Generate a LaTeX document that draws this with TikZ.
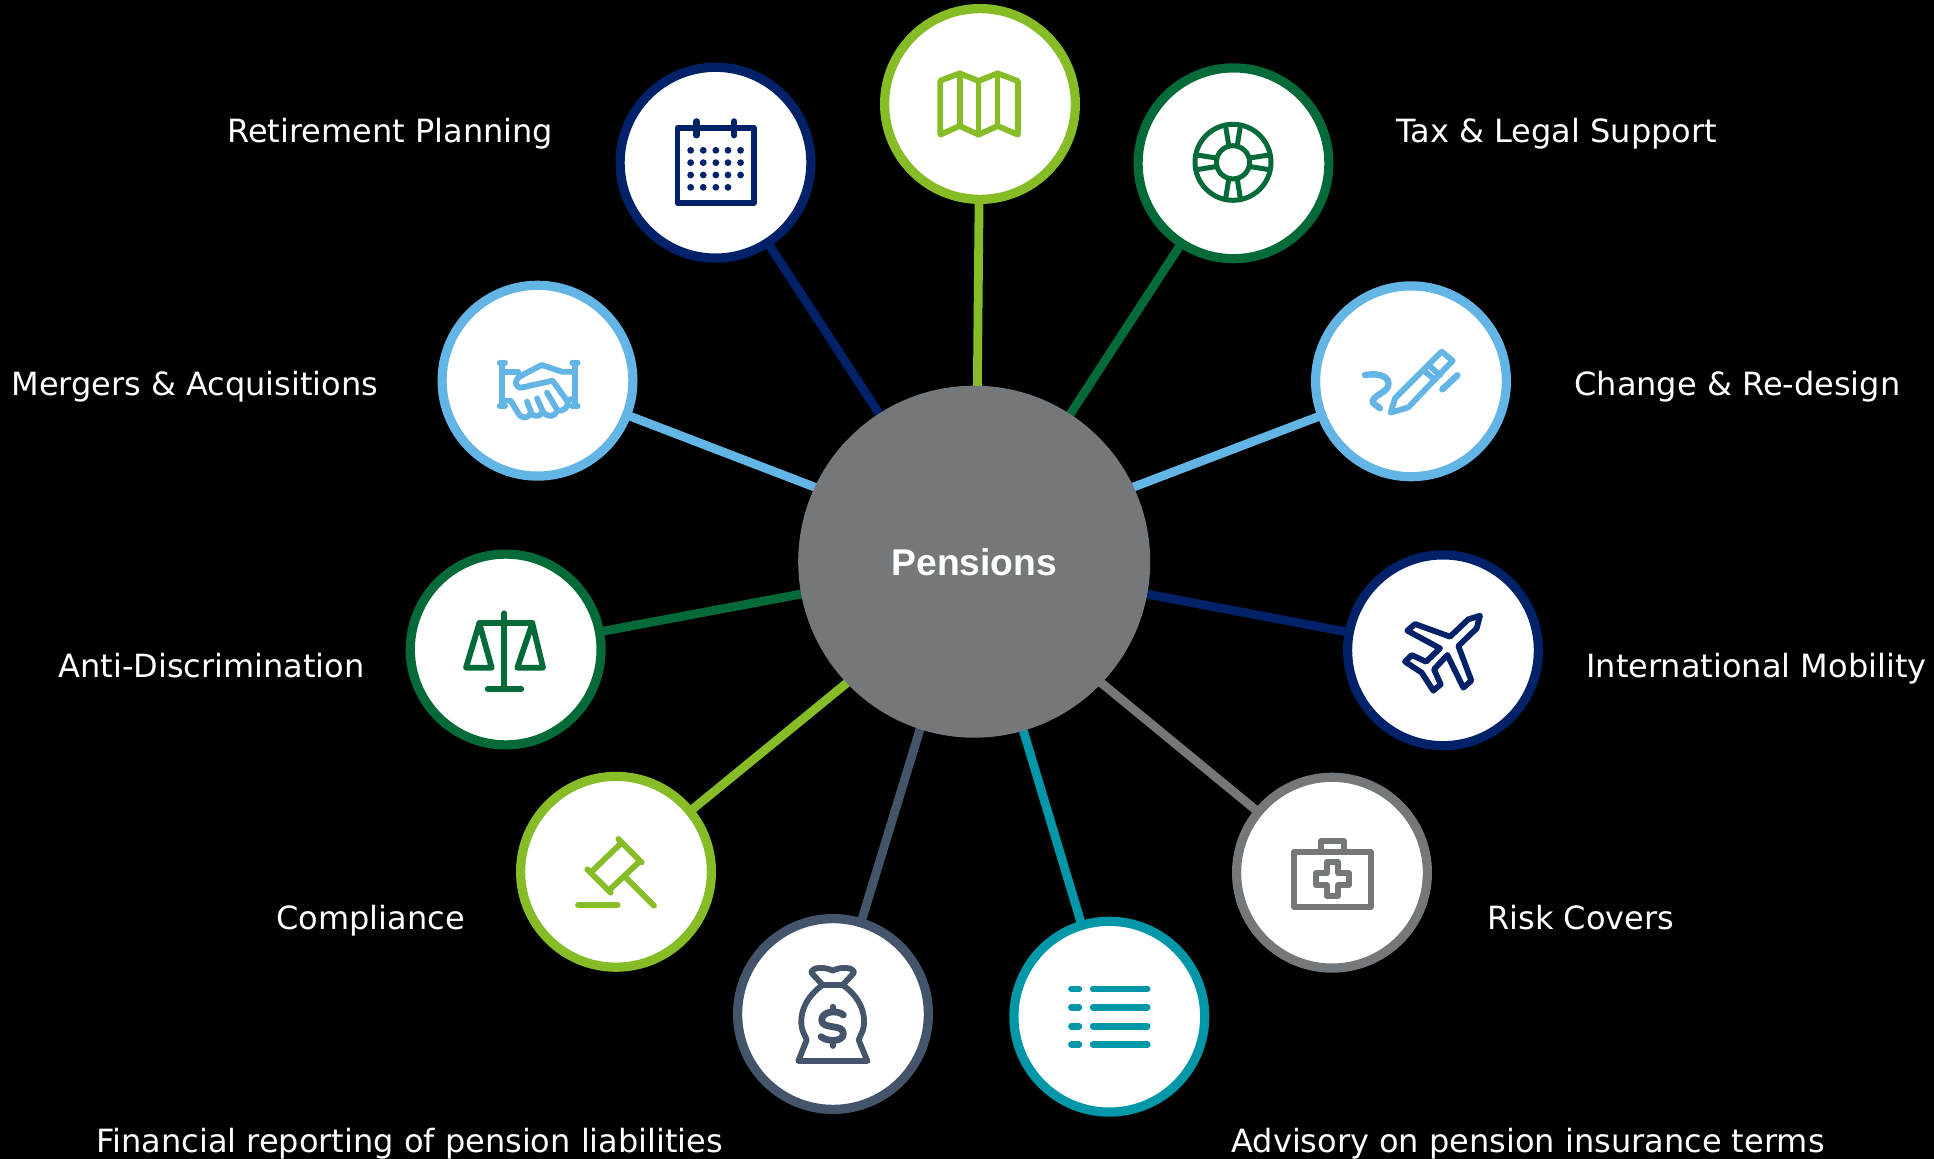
\documentclass[tikz,border=0pt]{standalone}
\usepackage{fontspec}
\setmainfont{DejaVu Sans}
\newfontfamily\hubfont{Liberation Sans}
\definecolor{cnavy}{HTML}{012169}
\definecolor{clime}{HTML}{86BC25}
\definecolor{cgreen}{HTML}{046A38}
\definecolor{csky}{HTML}{62B5E5}
\definecolor{cgrey}{HTML}{75787B}
\definecolor{cslate}{HTML}{44546A}
\definecolor{cteal}{HTML}{0097A9}
\tikzset{
  hubnode/.style={circle,fill=cgrey,minimum size=352*0.5pt,inner sep=0pt,outer sep=0pt,text=white,font=\hubfont\bfseries\fontsize{18.6}{22}\selectfont},
  ringnode/.style={circle,draw=#1,fill=white,line width=4.6pt,minimum size=190.8*0.5pt,inner sep=0pt,outer sep=0pt},
  spoke/.style={line width=4.4pt,draw=#1,line cap=round},
  lbl/.style={anchor=base west,inner sep=0pt,text=white,font=\fontsize{16}{19}\selectfont},
  icon/.style={line width=2.9pt,draw=#1,line cap=round,line join=round},
  zoomA/.style={shift={#1},x=0.16667pt,y=-0.16667pt},
  zoomB/.style={shift={#1},x=0.24237pt,y=-0.16667pt}
}
\begin{document}
\begin{tikzpicture}[x=0.5pt,y=-0.5pt]
\fill[black] (0,0) rectangle (1934,1159);
\useasboundingbox (0,0) rectangle (1934,1159);
% circle centres
\coordinate (chub) at (974.2,561.7);
\coordinate (ccal) at (715.5,162.7);
\coordinate (cmap) at (980,104);
\coordinate (cwheel) at (1233.5,163.3);
\coordinate (chand) at (537.5,380.7);
\coordinate (cpen) at (1411,381.3);
\coordinate (cscale) at (505.7,649.5);
\coordinate (cplane) at (1443,650.3);
\coordinate (cgavel) at (616,871.8);
\coordinate (ccase) at (1332,872.7);
\coordinate (cbag) at (833,1014);
\coordinate (clist) at (1109.3,1016.7);
% where each spoke meets the hub
\coordinate (hcal) at (880,415);
\coordinate (hmap) at (977.3,392);
\coordinate (hwheel) at (1069,416);
\coordinate (hhand) at (817,488);
\coordinate (hpen) at (1131,488);
\coordinate (hscale) at (804,593.5);
\coordinate (hplane) at (1144,593.5);
\coordinate (hgavel) at (848,682);
\coordinate (hcase) at (1099,681);
\coordinate (hbag) at (920.7,727);
\coordinate (hlist) at (1022.5,728);
\draw[spoke=cnavy] (hcal) -- (ccal);
\draw[spoke=clime] (hmap) -- (cmap);
\draw[spoke=cgreen] (hwheel) -- (cwheel);
\draw[spoke=csky] (hhand) -- (chand);
\draw[spoke=csky] (hpen) -- (cpen);
\draw[spoke=cgreen] (hscale) -- (cscale);
\draw[spoke=cnavy] (hplane) -- (cplane);
\draw[spoke=clime] (hgavel) -- (cgavel);
\draw[spoke=cgrey] (hcase) -- (ccase);
\draw[spoke=cslate] (hbag) -- (cbag);
\draw[spoke=cteal] (hlist) -- (clist);
\node[hubnode,text depth=0pt] (hub) at (chub) {\raisebox{-0.5pt}{Pensions}};
\node[ringnode=cnavy] (ncal) at (ccal) {};
\node[ringnode=clime] (nmap) at (cmap) {};
\node[ringnode=cgreen] (nwheel) at (cwheel) {};
\node[ringnode=csky] (nhand) at (chand) {};
\node[ringnode=csky] (npen) at (cpen) {};
\node[ringnode=cgreen] (nscale) at (cscale) {};
\node[ringnode=cnavy] (nplane) at (cplane) {};
\node[ringnode=clime] (ngavel) at (cgavel) {};
\node[ringnode=cgrey] (ncase) at (ccase) {};
\node[ringnode=cslate] (nbag) at (cbag) {};
\node[ringnode=cteal] (nlist) at (clist) {};
% labels
\node[lbl] (l1) at (227,143) {Retirement Planning};
\node[lbl] (l2) at (1396,143) {Tax \& Legal Support};
\node[lbl] (l3) at (11,396) {Mergers \& Acquisitions};
\node[lbl] (l4) at (1574,396) {Change \& Re-design};
\node[lbl] (l5) at (58,678) {Anti-Discrimination};
\node[lbl] (l6) at (1586,678) {International Mobility};
\node[lbl] (l7) at (276,929) {Compliance};
\node[lbl] (l8) at (1487,929) {Risk Covers};
\node[lbl] (l9) at (96,1152) {Financial reporting of pension liabilities};
\node[lbl] (l10) at (1231,1152) {Advisory on pension insurance terms};
% calendar
\begin{scope}[zoomB={(600,0)}]
\draw[icon=cnavy] (160,383) rectangle (317,609);
\draw[icon=cnavy,line width=3.1pt] (199,364) -- (199,406) (277,364) -- (277,406);
\foreach \y/\xs in {451/{187,213,239,264,290},488/{187,213,239,264,290},525/{187,213,239,264,290},562/{187,213,239,264}}
  \foreach \x in \xs \fill[cnavy] (\x,\y) circle (1.7pt);
% map
\draw[icon=clime] (702,242) -- (742,220) -- (781,243) -- (820,220) -- (862,243) -- (862,404) -- (820,378) -- (781,404) -- (742,378) -- (702,404) -- cycle;
\draw[icon=clime] (742,220) -- (742,378) (781,243) -- (781,404) (820,220) -- (820,378);
\end{scope}
% life ring
\begin{scope}[shift={(1233,162.3)}]
\draw[icon=cgreen,line width=2.5pt] (0,0) circle (19pt) (0,0) circle (8.3pt);
\foreach \a in {0,90,180,270}
  \draw[icon=cgreen,line width=2.5pt,rotate=\a] (-4.2,-16.5) -- (-7.5,-37) (4.2,-16.5) -- (7.5,-37);
\end{scope}
% handshake
\begin{scope}[zoomA={(400,270)}]
\draw[icon=csky] (306,278) -- (306,408) (299,278) -- (315,278) (299,408) -- (315,408);
\draw[icon=csky] (524,278) -- (524,408) (517,278) -- (533,278) (517,408) -- (533,408);
\draw[icon=csky] (306,305) -- (355,305);
\draw[icon=csky] (524,305) -- (485,305) -- (425,285) -- (362,318) .. controls (340,330) and (345,358) .. (368,352) -- (458,332) -- (503,395);
\draw[icon=csky] (306,392) -- (332,392) -- (355,430) .. controls (365,448) and (385,445) .. (392,430) .. controls (405,442) and (422,440) .. (428,425) .. controls (445,445) and (465,440) .. (472,422) .. controls (490,425) and (508,410) .. (503,395) -- (510,388) -- (524,388);
\draw[icon=csky] (381,395) -- (394,428) (411,385) -- (428,423) (441,368) -- (472,420);
% scale
\draw[icon=cgreen] (313,1030) -- (313,1255) (263,1257) -- (364,1257) (238,1060) -- (397,1060);
\draw[icon=cgreen] (238,1060) -- (198,1193) -- (275,1193) -- cycle (397,1060) -- (352,1193) -- (429,1193) -- cycle;
\end{scope}
% pen and plane
\begin{scope}[zoomA={(1300,270)}]
\draw[icon=csky] (272,428) -- (285,385) -- (425,245) -- (458,272) -- (325,412) -- cycle;
\draw[icon=csky] (370,300) -- (405,330) (385,285) -- (420,316);
\draw[icon=csky,line width=3.2pt] (427,358) -- (472,316);
\draw[icon=csky,line width=3.2pt] (195,315) .. controls (240,308) and (272,320) .. (264,350) .. controls (255,370) and (215,378) .. (218,398) -- (240,415);
\draw[icon=cnavy] (540,1037) -- (505,1048) -- (450,1100) -- (345,1062) -- (322,1082) -- (420,1135) -- (378,1175) -- (335,1155) -- (315,1175) -- (365,1208) -- (400,1262) -- (422,1243) -- (402,1198) -- (442,1155) -- (490,1253) -- (514,1232) -- (475,1128) -- (530,1075) -- cycle;
\end{scope}
% gavel and money bag
\begin{scope}[zoomA={(510,770)}]
\draw[icon=clime] (325,207) -- (395,277) (232,298) -- (302,368) (335,218) -- (245,305) (385,278) -- (298,360) (345,320) -- (432,407);
\draw[icon=clime,line width=3.2pt] (205,405) -- (322,405);
\draw[icon=cslate] (938,645) .. controls (895,675) and (868,720) .. (875,770) .. controls (877,785) and (885,795) .. (890,810) -- (865,873) -- (1072,873) -- (1046,810) .. controls (1051,795) and (1059,785) .. (1061,770) .. controls (1068,720) and (1041,675) .. (998,645);
\draw[icon=cslate] (938,645) -- (998,645) -- (1032,608) .. controls (1030,590) and (990,590) .. (968,602) .. controls (946,590) and (906,590) .. (904,608) -- cycle;
\draw[icon=cslate,line width=3.4pt] (1000,735) .. controls (985,720) and (935,722) .. (935,750) .. controls (935,780) and (1000,760) .. (1000,790) .. controls (1000,818) and (950,815) .. (933,800);
\draw[icon=cslate] (968,710) -- (968,725) (968,815) -- (968,828);
\end{scope}
% list and case
\begin{scope}[zoomA={(1000,770)}]
\foreach \y in {657,712,769,824}
  \draw[icon=cteal,line width=3.2pt] (214,\y) -- (237,\y) (279,\y) -- (442,\y);
\draw[icon=cgrey] (883,245) rectangle (1112,411);
\draw[icon=cgrey] (963,240) -- (963,214) -- (1032,214) -- (1032,240);
\draw[icon=cgrey] (980,277) -- (1015,277) -- (1015,310) -- (1047,310) -- (1047,345) -- (1015,345) -- (1015,377) -- (980,377) -- (980,345) -- (947,345) -- (947,310) -- (980,310) -- cycle;
\end{scope}
\end{tikzpicture}
\end{document}
